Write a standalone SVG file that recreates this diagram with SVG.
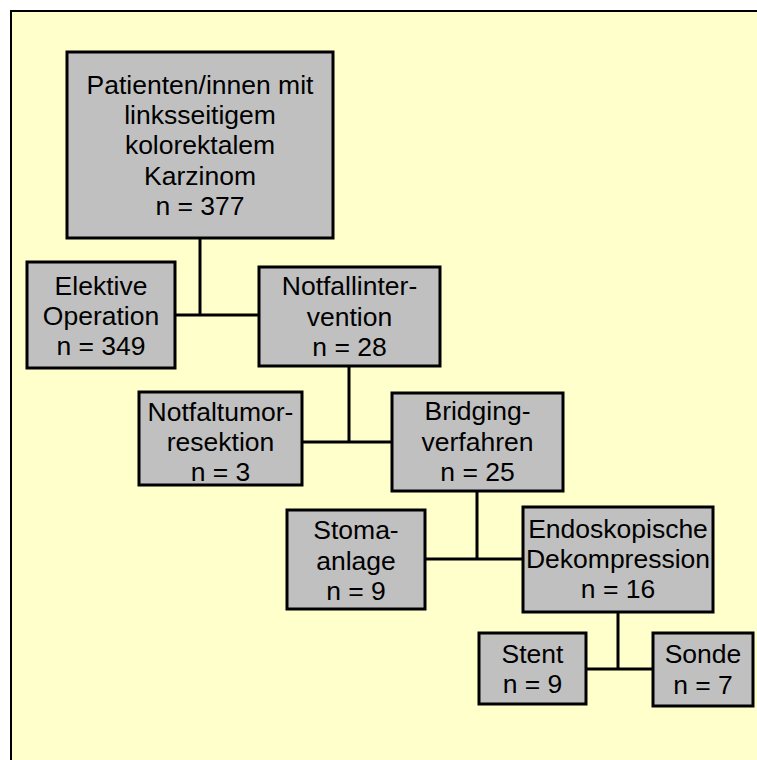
<svg xmlns="http://www.w3.org/2000/svg" width="757" height="760" viewBox="0 0 757 760">
<style>
.bg{fill:#FFFFCC;stroke:#000;stroke-width:2}
.box{fill:#C0C0C0;stroke:#000;stroke-width:3}
.t{font-family:"Liberation Sans",Arial,sans-serif;font-size:26.5px;fill:#000;text-anchor:middle}
.c{fill:none;stroke:#000;stroke-width:3}
</style>
<rect x="0" y="0" width="757" height="760" fill="#FFFFFF"/>
<rect class="bg" x="11" y="11" width="780" height="780"/>
<g id="connectors">
<path class="c" d="M200 238 V315 M175 315 H259"/>
<path class="c" d="M349 366 V442 M302 442 H392"/>
<path class="c" d="M477 491 V559 M425 559 H523"/>
<path class="c" d="M618 612 V669 M586 669 H653"/>
</g>
<g id="patienten">
<rect class="box" x="67" y="52" width="266" height="186"/>
<text class="t" x="200" y="94">Patienten/innen mit</text>
<text class="t" x="200" y="124">linksseitigem</text>
<text class="t" x="200" y="154">kolorektalem</text>
<text class="t" x="200" y="185">Karzinom</text>
<text class="t" x="200" y="215">n = 377</text>
</g>
<g id="elektive">
<rect class="box" x="27" y="262" width="148" height="106"/>
<text class="t" x="101" y="295">Elektive</text>
<text class="t" x="101" y="325">Operation</text>
<text class="t" x="101" y="355">n = 349</text>
</g>
<g id="notfallintervention">
<rect class="box" x="259" y="267" width="181" height="99"/>
<text class="t" x="349.5" y="295">Notfallinter-</text>
<text class="t" x="349.5" y="326">vention</text>
<text class="t" x="349.5" y="356">n = 28</text>
</g>
<g id="notfaltumorresektion">
<rect class="box" x="139" y="392" width="163" height="93"/>
<text class="t" x="220.5" y="421">Notfaltumor-</text>
<text class="t" x="220.5" y="451">resektion</text>
<text class="t" x="220.5" y="481">n = 3</text>
</g>
<g id="bridging">
<rect class="box" x="392" y="393" width="171" height="98"/>
<text class="t" x="477.5" y="420">Bridging-</text>
<text class="t" x="477.5" y="451">verfahren</text>
<text class="t" x="477.5" y="481">n = 25</text>
</g>
<g id="stoma">
<rect class="box" x="287" y="510" width="138" height="99"/>
<text class="t" x="356" y="539">Stoma-</text>
<text class="t" x="356" y="570">anlage</text>
<text class="t" x="356" y="600">n = 9</text>
</g>
<g id="endoskopische">
<rect class="box" x="523" y="507" width="190" height="105"/>
<text class="t" x="618" y="538">Endoskopische</text>
<text class="t" x="618" y="568">Dekompression</text>
<text class="t" x="618" y="598">n = 16</text>
</g>
<g id="stent">
<rect class="box" x="479" y="633" width="107" height="71"/>
<text class="t" x="532.5" y="663">Stent</text>
<text class="t" x="532.5" y="693">n = 9</text>
</g>
<g id="sonde">
<rect class="box" x="653" y="633" width="100" height="73"/>
<text class="t" x="703" y="663">Sonde</text>
<text class="t" x="703" y="694">n = 7</text>
</g>
</svg>
